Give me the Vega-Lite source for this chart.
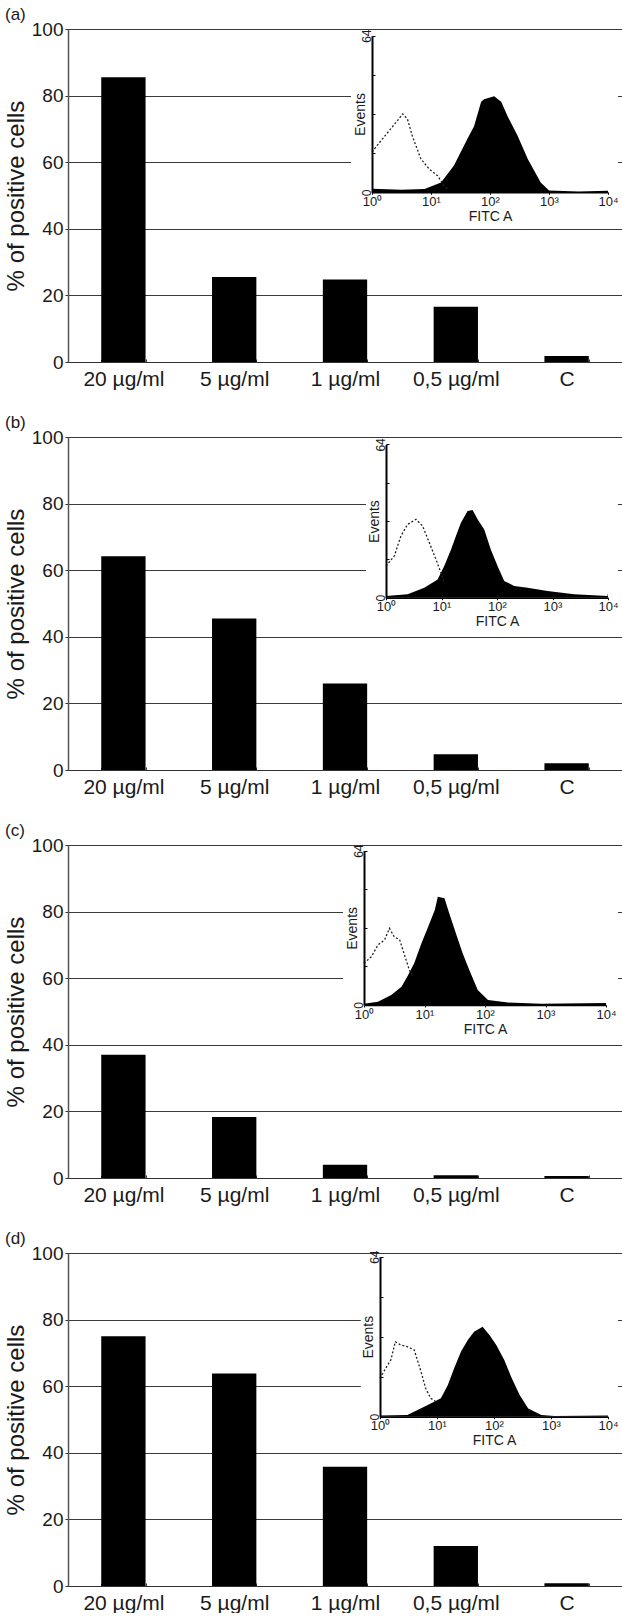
{
  "$schema": "https://vega.github.io/schema/vega-lite/v6.json",
  "padding": {"left": 4, "top": 6, "right": 0, "bottom": 0},
  "bounds": "flush",
  "spacing": 75,
  "config": {
    "font": "Liberation Sans",
    "view": {"stroke": null},
    "axis": {"labelColor": "#1a1a1a", "titleColor": "#1a1a1a", "titleFontWeight": "normal"},
    "title": {"color": "#1a1a1a", "fontWeight": "normal", "fontSize": 17}
  },
  "datasets": {
    "bars": [
      {"panel": "a", "conc": "20 µg/ml", "pct": 85.5},
      {"panel": "a", "conc": "5 µg/ml", "pct": 25.5},
      {"panel": "a", "conc": "1 µg/ml", "pct": 24.8},
      {"panel": "a", "conc": "0,5 µg/ml", "pct": 16.6},
      {"panel": "a", "conc": "C", "pct": 1.8},
      {"panel": "b", "conc": "20 µg/ml", "pct": 64.2},
      {"panel": "b", "conc": "5 µg/ml", "pct": 45.5},
      {"panel": "b", "conc": "1 µg/ml", "pct": 26},
      {"panel": "b", "conc": "0,5 µg/ml", "pct": 4.7},
      {"panel": "b", "conc": "C", "pct": 2},
      {"panel": "c", "conc": "20 µg/ml", "pct": 37},
      {"panel": "c", "conc": "5 µg/ml", "pct": 18.3},
      {"panel": "c", "conc": "1 µg/ml", "pct": 4},
      {"panel": "c", "conc": "0,5 µg/ml", "pct": 0.8},
      {"panel": "c", "conc": "C", "pct": 0.6},
      {"panel": "d", "conc": "20 µg/ml", "pct": 75},
      {"panel": "d", "conc": "5 µg/ml", "pct": 63.8},
      {"panel": "d", "conc": "1 µg/ml", "pct": 35.8},
      {"panel": "d", "conc": "0,5 µg/ml", "pct": 12},
      {"panel": "d", "conc": "C", "pct": 0.8}
    ],
    "hist": [
      {"panel": "a", "series": "control", "fitc": 1, "events": 16.5},
      {"panel": "a", "series": "control", "fitc": 1.41, "events": 21},
      {"panel": "a", "series": "control", "fitc": 2.09, "events": 26},
      {"panel": "a", "series": "control", "fitc": 3.31, "events": 32},
      {"panel": "a", "series": "control", "fitc": 3.98, "events": 30},
      {"panel": "a", "series": "control", "fitc": 4.9, "events": 22.5},
      {"panel": "a", "series": "control", "fitc": 6.76, "events": 13.6},
      {"panel": "a", "series": "control", "fitc": 9.33, "events": 9.5},
      {"panel": "a", "series": "control", "fitc": 12.9, "events": 6.8},
      {"panel": "a", "series": "control", "fitc": 16.6, "events": 2.7},
      {"panel": "a", "series": "control", "fitc": 20, "events": 1},
      {"panel": "a", "series": "stained", "fitc": 1, "events": 1.5},
      {"panel": "a", "series": "stained", "fitc": 3.16, "events": 1},
      {"panel": "a", "series": "stained", "fitc": 7.76, "events": 1.3},
      {"panel": "a", "series": "stained", "fitc": 14.8, "events": 4},
      {"panel": "a", "series": "stained", "fitc": 24.5, "events": 11},
      {"panel": "a", "series": "stained", "fitc": 41.7, "events": 22},
      {"panel": "a", "series": "stained", "fitc": 53.7, "events": 27},
      {"panel": "a", "series": "stained", "fitc": 70.8, "events": 37},
      {"panel": "a", "series": "stained", "fitc": 79.4, "events": 38},
      {"panel": "a", "series": "stained", "fitc": 117.5, "events": 39.3},
      {"panel": "a", "series": "stained", "fitc": 154.9, "events": 37},
      {"panel": "a", "series": "stained", "fitc": 199.5, "events": 31},
      {"panel": "a", "series": "stained", "fitc": 295, "events": 23},
      {"panel": "a", "series": "stained", "fitc": 436.5, "events": 13.6},
      {"panel": "a", "series": "stained", "fitc": 724, "events": 4},
      {"panel": "a", "series": "stained", "fitc": 1000, "events": 0.7},
      {"panel": "a", "series": "stained", "fitc": 3162, "events": 0.3},
      {"panel": "a", "series": "stained", "fitc": 10000, "events": 0.6},
      {"panel": "b", "series": "control", "fitc": 1, "events": 13.2},
      {"panel": "b", "series": "control", "fitc": 1.41, "events": 17.4},
      {"panel": "b", "series": "control", "fitc": 1.86, "events": 25.8},
      {"panel": "b", "series": "control", "fitc": 2.45, "events": 30.6},
      {"panel": "b", "series": "control", "fitc": 3.47, "events": 32.7},
      {"panel": "b", "series": "control", "fitc": 4.57, "events": 29.9},
      {"panel": "b", "series": "control", "fitc": 6.03, "events": 23},
      {"panel": "b", "series": "control", "fitc": 7.94, "events": 16},
      {"panel": "b", "series": "control", "fitc": 9.77, "events": 10.4},
      {"panel": "b", "series": "control", "fitc": 11.2, "events": 6},
      {"panel": "b", "series": "stained", "fitc": 1, "events": 0.7},
      {"panel": "b", "series": "stained", "fitc": 2.45, "events": 1.4},
      {"panel": "b", "series": "stained", "fitc": 4.9, "events": 4.2},
      {"panel": "b", "series": "stained", "fitc": 8.51, "events": 7.6},
      {"panel": "b", "series": "stained", "fitc": 11.2, "events": 13.2},
      {"panel": "b", "series": "stained", "fitc": 14.8, "events": 20},
      {"panel": "b", "series": "stained", "fitc": 18.2, "events": 25.8},
      {"panel": "b", "series": "stained", "fitc": 22.4, "events": 31.3},
      {"panel": "b", "series": "stained", "fitc": 29.5, "events": 36.2},
      {"panel": "b", "series": "stained", "fitc": 36.3, "events": 36.6},
      {"panel": "b", "series": "stained", "fitc": 44.7, "events": 32.7},
      {"panel": "b", "series": "stained", "fitc": 58.9, "events": 28.5},
      {"panel": "b", "series": "stained", "fitc": 77.6, "events": 20},
      {"panel": "b", "series": "stained", "fitc": 102.3, "events": 13.2},
      {"panel": "b", "series": "stained", "fitc": 134.9, "events": 7},
      {"panel": "b", "series": "stained", "fitc": 204.2, "events": 4.9},
      {"panel": "b", "series": "stained", "fitc": 354.8, "events": 4.2},
      {"panel": "b", "series": "stained", "fitc": 812.8, "events": 2.8},
      {"panel": "b", "series": "stained", "fitc": 2455, "events": 1.4},
      {"panel": "b", "series": "stained", "fitc": 9772, "events": 0.7},
      {"panel": "b", "series": "stained", "fitc": 10000, "events": 2},
      {"panel": "c", "series": "control", "fitc": 1, "events": 17.3},
      {"panel": "c", "series": "control", "fitc": 1.32, "events": 20},
      {"panel": "c", "series": "control", "fitc": 1.7, "events": 24.9},
      {"panel": "c", "series": "control", "fitc": 2.19, "events": 27},
      {"panel": "c", "series": "control", "fitc": 2.63, "events": 31.8},
      {"panel": "c", "series": "control", "fitc": 3.16, "events": 28.3},
      {"panel": "c", "series": "control", "fitc": 3.89, "events": 27},
      {"panel": "c", "series": "control", "fitc": 4.68, "events": 20.7},
      {"panel": "c", "series": "control", "fitc": 5.62, "events": 14.5},
      {"panel": "c", "series": "control", "fitc": 6.46, "events": 11.7},
      {"panel": "c", "series": "stained", "fitc": 1, "events": 0.5},
      {"panel": "c", "series": "stained", "fitc": 1.7, "events": 1.4},
      {"panel": "c", "series": "stained", "fitc": 2.82, "events": 4.1},
      {"panel": "c", "series": "stained", "fitc": 4.17, "events": 7.6},
      {"panel": "c", "series": "stained", "fitc": 5.37, "events": 12.4},
      {"panel": "c", "series": "stained", "fitc": 6.76, "events": 17.3},
      {"panel": "c", "series": "stained", "fitc": 8.91, "events": 25.6},
      {"panel": "c", "series": "stained", "fitc": 11.5, "events": 32.5},
      {"panel": "c", "series": "stained", "fitc": 14.8, "events": 39.4},
      {"panel": "c", "series": "stained", "fitc": 16.6, "events": 44.9},
      {"panel": "c", "series": "stained", "fitc": 21.4, "events": 44.3},
      {"panel": "c", "series": "stained", "fitc": 25.7, "events": 38},
      {"panel": "c", "series": "stained", "fitc": 33.1, "events": 29.7},
      {"panel": "c", "series": "stained", "fitc": 42.7, "events": 21.5},
      {"panel": "c", "series": "stained", "fitc": 55, "events": 14.5},
      {"panel": "c", "series": "stained", "fitc": 75.9, "events": 6.2},
      {"panel": "c", "series": "stained", "fitc": 112.2, "events": 2.1},
      {"panel": "c", "series": "stained", "fitc": 239.9, "events": 1},
      {"panel": "c", "series": "stained", "fitc": 851, "events": 0.5},
      {"panel": "c", "series": "stained", "fitc": 10000, "events": 0.8},
      {"panel": "d", "series": "control", "fitc": 1, "events": 15.4},
      {"panel": "d", "series": "control", "fitc": 1.26, "events": 19.4},
      {"panel": "d", "series": "control", "fitc": 1.55, "events": 22.7},
      {"panel": "d", "series": "control", "fitc": 1.86, "events": 30},
      {"panel": "d", "series": "control", "fitc": 2.29, "events": 28.7},
      {"panel": "d", "series": "control", "fitc": 3.02, "events": 28},
      {"panel": "d", "series": "control", "fitc": 3.98, "events": 26.7},
      {"panel": "d", "series": "control", "fitc": 5.25, "events": 18},
      {"panel": "d", "series": "control", "fitc": 6.31, "events": 11.4},
      {"panel": "d", "series": "control", "fitc": 7.76, "events": 7.4},
      {"panel": "d", "series": "control", "fitc": 9.55, "events": 6},
      {"panel": "d", "series": "stained", "fitc": 1, "events": 0.5},
      {"panel": "d", "series": "stained", "fitc": 3.02, "events": 0.7},
      {"panel": "d", "series": "stained", "fitc": 4.57, "events": 2.7},
      {"panel": "d", "series": "stained", "fitc": 7.76, "events": 5.3},
      {"panel": "d", "series": "stained", "fitc": 11.7, "events": 7.4},
      {"panel": "d", "series": "stained", "fitc": 15.5, "events": 12.7},
      {"panel": "d", "series": "stained", "fitc": 20, "events": 19.4},
      {"panel": "d", "series": "stained", "fitc": 26.3, "events": 26},
      {"panel": "d", "series": "stained", "fitc": 34.7, "events": 30.7},
      {"panel": "d", "series": "stained", "fitc": 44.7, "events": 34},
      {"panel": "d", "series": "stained", "fitc": 63.1, "events": 36},
      {"panel": "d", "series": "stained", "fitc": 83.2, "events": 32.7},
      {"panel": "d", "series": "stained", "fitc": 109.6, "events": 28.7},
      {"panel": "d", "series": "stained", "fitc": 151.4, "events": 22.7},
      {"panel": "d", "series": "stained", "fitc": 199.5, "events": 16},
      {"panel": "d", "series": "stained", "fitc": 281.8, "events": 8.7},
      {"panel": "d", "series": "stained", "fitc": 398.1, "events": 3.3},
      {"panel": "d", "series": "stained", "fitc": 676.1, "events": 0.7},
      {"panel": "d", "series": "stained", "fitc": 1148, "events": 0.3},
      {"panel": "d", "series": "stained", "fitc": 10000, "events": 0.5}
    ]
  },
  "vconcat": [
    {
      "width": 554, "height": 333,
      "title": {"text": "(a)", "anchor": "start", "frame": "group", "dx": -63, "offset": -21, "baseline": "bottom"},
      "resolve": {"scale": {"x": "independent", "y": "independent"}, "axis": {"x": "independent", "y": "independent"}},
      "layer": [
        {
          "data": {"name": "bars"},
          "transform": [{"filter": "datum.panel == 'a'"}],
          "mark": {"type": "bar", "color": "#000"},
          "encoding": {
            "x": {"field": "conc", "type": "nominal", "sort": ["20 µg/ml", "5 µg/ml", "1 µg/ml", "0,5 µg/ml", "C"], "scale": {"paddingInner": 0.6, "paddingOuter": 0.3},
              "axis": {"title": null, "orient": "bottom", "labelAngle": 0, "labelFontSize": 21, "labelPadding": 9, "tickBand": "extent", "tickSize": -3, "tickColor": "#333", "domainColor": "#333", "domainWidth": 1.2}},
            "y": {"field": "pct", "type": "quantitative", "scale": {"domain": [0, 100]},
              "axis": {"title": "% of positive cells", "orient": "left", "titleFontSize": 24, "titlePadding": 3, "values": [0, 20, 40, 60, 80, 100], "labelFontSize": 19, "labelPadding": 2, "tickSize": 3, "tickColor": "#333", "grid": true, "gridColor": "#3a3a3a", "gridWidth": 1.2, "domainColor": "#555", "domainWidth": 1.5}}
          }
        },
        {
          "data": {"values": [{}]},
          "mark": {"type": "rect", "color": "#fff"},
          "encoding": {
            "x": {"datum": 0.44, "type": "quantitative", "scale": {"type": "log", "domain": [1, 10000], "range": [304, 540]}, "axis": null},
            "x2": {"datum": 14790},
            "y": {"datum": 65.5, "type": "quantitative", "scale": {"domain": [0, 64], "range": [163.3, 6.7]}, "axis": null},
            "y2": {"datum": -11.7}
          }
        },
        {
          "data": {"name": "hist"},
          "transform": [{"filter": "datum.panel == 'a' && datum.series == 'stained'"}],
          "mark": {"type": "area", "color": "#000"},
          "encoding": {
            "x": {"field": "fitc", "type": "quantitative", "scale": {"type": "log", "domain": [1, 10000], "range": [304, 540]},
              "axis": {"orient": "bottom", "offset": -169.7, "zindex": 1, "values": [1, 10, 100, 1000, 10000], "labelExpr": "'10' + ['⁰','¹','²','³','⁴'][round(log(datum.value)/LN10)]", "labelFlush": false, "labelOverlap": false, "labelFontSize": 13, "labelPadding": 1, "tickSize": 2, "tickColor": "#000", "domainColor": "#000", "domainWidth": 1.5, "title": "FITC A", "titleFontSize": 14, "titlePadding": 1, "grid": false}},
            "y": {"field": "events", "type": "quantitative", "scale": {"domain": [0, 64], "range": [163.3, 6.7]},
              "axis": {"orient": "left", "offset": -304, "zindex": 1, "values": [0, 16, 32, 48, 64], "labelExpr": "datum.value == 0 || datum.value == 64 ? datum.label : ''", "labelAngle": -90, "labelAlign": "center", "labelBaseline": "bottom", "labelFlush": false, "labelOverlap": false, "labelFontSize": 12, "labelPadding": 2, "tickSize": -3, "tickColor": "#000", "domainColor": "#000", "domainWidth": 2, "title": "Events", "titleFontSize": 14, "titlePadding": -7, "grid": false}}
          }
        },
        {
          "data": {"name": "hist"},
          "transform": [{"filter": "datum.panel == 'a' && datum.series == 'control'"}],
          "mark": {"type": "line", "color": "#222", "strokeDash": [2, 2], "strokeWidth": 1.3},
          "encoding": {
            "x": {"field": "fitc", "type": "quantitative", "scale": {"type": "log", "domain": [1, 10000], "range": [304, 540]}, "axis": null},
            "y": {"field": "events", "type": "quantitative", "scale": {"domain": [0, 64], "range": [163.3, 6.7]}, "axis": null}
          }
        }
      ]
    },
    {
      "width": 554, "height": 333,
      "title": {"text": "(b)", "anchor": "start", "frame": "group", "dx": -63, "offset": -21, "baseline": "bottom"},
      "resolve": {"scale": {"x": "independent", "y": "independent"}, "axis": {"x": "independent", "y": "independent"}},
      "layer": [
        {
          "data": {"name": "bars"},
          "transform": [{"filter": "datum.panel == 'b'"}],
          "mark": {"type": "bar", "color": "#000"},
          "encoding": {
            "x": {"field": "conc", "type": "nominal", "sort": ["20 µg/ml", "5 µg/ml", "1 µg/ml", "0,5 µg/ml", "C"], "scale": {"paddingInner": 0.6, "paddingOuter": 0.3},
              "axis": {"title": null, "orient": "bottom", "labelAngle": 0, "labelFontSize": 21, "labelPadding": 9, "tickBand": "extent", "tickSize": -3, "tickColor": "#333", "domainColor": "#333", "domainWidth": 1.2}},
            "y": {"field": "pct", "type": "quantitative", "scale": {"domain": [0, 100]},
              "axis": {"title": "% of positive cells", "orient": "left", "titleFontSize": 24, "titlePadding": 3, "values": [0, 20, 40, 60, 80, 100], "labelFontSize": 19, "labelPadding": 2, "tickSize": 3, "tickColor": "#333", "grid": true, "gridColor": "#3a3a3a", "gridWidth": 1.2, "domainColor": "#555", "domainWidth": 1.5}}
          }
        },
        {
          "data": {"values": [{}]},
          "mark": {"type": "rect", "color": "#fff"},
          "encoding": {
            "x": {"datum": 0.436, "type": "quantitative", "scale": {"type": "log", "domain": [1, 10000], "range": [318, 540]}, "axis": null},
            "x2": {"datum": 15100},
            "y": {"datum": 65.8, "type": "quantitative", "scale": {"domain": [0, 64], "range": [160.7, 7.4]}, "axis": null},
            "y2": {"datum": -13}
          }
        },
        {
          "data": {"name": "hist"},
          "transform": [{"filter": "datum.panel == 'b' && datum.series == 'stained'"}],
          "mark": {"type": "area", "color": "#000"},
          "encoding": {
            "x": {"field": "fitc", "type": "quantitative", "scale": {"type": "log", "domain": [1, 10000], "range": [318, 540]},
              "axis": {"orient": "bottom", "offset": -172.3, "zindex": 1, "values": [1, 10, 100, 1000, 10000], "labelExpr": "'10' + ['⁰','¹','²','³','⁴'][round(log(datum.value)/LN10)]", "labelFlush": false, "labelOverlap": false, "labelFontSize": 13, "labelPadding": 1, "tickSize": 2, "tickColor": "#000", "domainColor": "#000", "domainWidth": 1.5, "title": "FITC A", "titleFontSize": 14, "titlePadding": 1, "grid": false}},
            "y": {"field": "events", "type": "quantitative", "scale": {"domain": [0, 64], "range": [160.7, 7.4]},
              "axis": {"orient": "left", "offset": -318, "zindex": 1, "values": [0, 16, 32, 48, 64], "labelExpr": "datum.value == 0 || datum.value == 64 ? datum.label : ''", "labelAngle": -90, "labelAlign": "center", "labelBaseline": "bottom", "labelFlush": false, "labelOverlap": false, "labelFontSize": 12, "labelPadding": 2, "tickSize": -3, "tickColor": "#000", "domainColor": "#000", "domainWidth": 2, "title": "Events", "titleFontSize": 14, "titlePadding": -7, "grid": false}}
          }
        },
        {
          "data": {"name": "hist"},
          "transform": [{"filter": "datum.panel == 'b' && datum.series == 'control'"}],
          "mark": {"type": "line", "color": "#222", "strokeDash": [2, 2], "strokeWidth": 1.3},
          "encoding": {
            "x": {"field": "fitc", "type": "quantitative", "scale": {"type": "log", "domain": [1, 10000], "range": [318, 540]}, "axis": null},
            "y": {"field": "events", "type": "quantitative", "scale": {"domain": [0, 64], "range": [160.7, 7.4]}, "axis": null}
          }
        }
      ]
    },
    {
      "width": 554, "height": 333,
      "title": {"text": "(c)", "anchor": "start", "frame": "group", "dx": -63, "offset": -21, "baseline": "bottom"},
      "resolve": {"scale": {"x": "independent", "y": "independent"}, "axis": {"x": "independent", "y": "independent"}},
      "layer": [
        {
          "data": {"name": "bars"},
          "transform": [{"filter": "datum.panel == 'c'"}],
          "mark": {"type": "bar", "color": "#000"},
          "encoding": {
            "x": {"field": "conc", "type": "nominal", "sort": ["20 µg/ml", "5 µg/ml", "1 µg/ml", "0,5 µg/ml", "C"], "scale": {"paddingInner": 0.6, "paddingOuter": 0.3},
              "axis": {"title": null, "orient": "bottom", "labelAngle": 0, "labelFontSize": 21, "labelPadding": 9, "tickBand": "extent", "tickSize": -3, "tickColor": "#333", "domainColor": "#333", "domainWidth": 1.2}},
            "y": {"field": "pct", "type": "quantitative", "scale": {"domain": [0, 100]},
              "axis": {"title": "% of positive cells", "orient": "left", "titleFontSize": 24, "titlePadding": 3, "values": [0, 20, 40, 60, 80, 100], "labelFontSize": 19, "labelPadding": 2, "tickSize": 3, "tickColor": "#333", "grid": true, "gridColor": "#3a3a3a", "gridWidth": 1.2, "domainColor": "#555", "domainWidth": 1.5}}
          }
        },
        {
          "data": {"values": [{}]},
          "mark": {"type": "rect", "color": "#fff"},
          "encoding": {
            "x": {"datum": 0.45, "type": "quantitative", "scale": {"type": "log", "domain": [1, 10000], "range": [296, 538]}, "axis": null},
            "x2": {"datum": 15800},
            "y": {"datum": 65.1, "type": "quantitative", "scale": {"domain": [0, 64], "range": [160, 5.7]}, "axis": null},
            "y2": {"datum": -13.3}
          }
        },
        {
          "data": {"name": "hist"},
          "transform": [{"filter": "datum.panel == 'c' && datum.series == 'stained'"}],
          "mark": {"type": "area", "color": "#000"},
          "encoding": {
            "x": {"field": "fitc", "type": "quantitative", "scale": {"type": "log", "domain": [1, 10000], "range": [296, 538]},
              "axis": {"orient": "bottom", "offset": -173, "zindex": 1, "values": [1, 10, 100, 1000, 10000], "labelExpr": "'10' + ['⁰','¹','²','³','⁴'][round(log(datum.value)/LN10)]", "labelFlush": false, "labelOverlap": false, "labelFontSize": 13, "labelPadding": 1, "tickSize": 2, "tickColor": "#000", "domainColor": "#000", "domainWidth": 1.5, "title": "FITC A", "titleFontSize": 14, "titlePadding": 1, "grid": false}},
            "y": {"field": "events", "type": "quantitative", "scale": {"domain": [0, 64], "range": [160, 5.7]},
              "axis": {"orient": "left", "offset": -296, "zindex": 1, "values": [0, 16, 32, 48, 64], "labelExpr": "datum.value == 0 || datum.value == 64 ? datum.label : ''", "labelAngle": -90, "labelAlign": "center", "labelBaseline": "bottom", "labelFlush": false, "labelOverlap": false, "labelFontSize": 12, "labelPadding": 2, "tickSize": -3, "tickColor": "#000", "domainColor": "#000", "domainWidth": 2, "title": "Events", "titleFontSize": 14, "titlePadding": -7, "grid": false}}
          }
        },
        {
          "data": {"name": "hist"},
          "transform": [{"filter": "datum.panel == 'c' && datum.series == 'control'"}],
          "mark": {"type": "line", "color": "#222", "strokeDash": [2, 2], "strokeWidth": 1.3},
          "encoding": {
            "x": {"field": "fitc", "type": "quantitative", "scale": {"type": "log", "domain": [1, 10000], "range": [296, 538]}, "axis": null},
            "y": {"field": "events", "type": "quantitative", "scale": {"domain": [0, 64], "range": [160, 5.7]}, "axis": null}
          }
        }
      ]
    },
    {
      "width": 554, "height": 333,
      "title": {"text": "(d)", "anchor": "start", "frame": "group", "dx": -63, "offset": -21, "baseline": "bottom"},
      "resolve": {"scale": {"x": "independent", "y": "independent"}, "axis": {"x": "independent", "y": "independent"}},
      "layer": [
        {
          "data": {"name": "bars"},
          "transform": [{"filter": "datum.panel == 'd'"}],
          "mark": {"type": "bar", "color": "#000"},
          "encoding": {
            "x": {"field": "conc", "type": "nominal", "sort": ["20 µg/ml", "5 µg/ml", "1 µg/ml", "0,5 µg/ml", "C"], "scale": {"paddingInner": 0.6, "paddingOuter": 0.3},
              "axis": {"title": null, "orient": "bottom", "labelAngle": 0, "labelFontSize": 21, "labelPadding": 9, "tickBand": "extent", "tickSize": -3, "tickColor": "#333", "domainColor": "#333", "domainWidth": 1.2}},
            "y": {"field": "pct", "type": "quantitative", "scale": {"domain": [0, 100]},
              "axis": {"title": "% of positive cells", "orient": "left", "titleFontSize": 24, "titlePadding": 3, "values": [0, 20, 40, 60, 80, 100], "labelFontSize": 19, "labelPadding": 2, "tickSize": 3, "tickColor": "#333", "grid": true, "gridColor": "#3a3a3a", "gridWidth": 1.2, "domainColor": "#555", "domainWidth": 1.5}}
          }
        },
        {
          "data": {"values": [{}]},
          "mark": {"type": "rect", "color": "#fff"},
          "encoding": {
            "x": {"datum": 0.46, "type": "quantitative", "scale": {"type": "log", "domain": [1, 10000], "range": [312, 540]}, "axis": null},
            "x2": {"datum": 15000},
            "y": {"datum": 64.3, "type": "quantitative", "scale": {"domain": [0, 64], "range": [163.7, 3.7]}, "axis": null},
            "y2": {"datum": -11.3}
          }
        },
        {
          "data": {"name": "hist"},
          "transform": [{"filter": "datum.panel == 'd' && datum.series == 'stained'"}],
          "mark": {"type": "area", "color": "#000"},
          "encoding": {
            "x": {"field": "fitc", "type": "quantitative", "scale": {"type": "log", "domain": [1, 10000], "range": [312, 540]},
              "axis": {"orient": "bottom", "offset": -169.3, "zindex": 1, "values": [1, 10, 100, 1000, 10000], "labelExpr": "'10' + ['⁰','¹','²','³','⁴'][round(log(datum.value)/LN10)]", "labelFlush": false, "labelOverlap": false, "labelFontSize": 13, "labelPadding": 1, "tickSize": 2, "tickColor": "#000", "domainColor": "#000", "domainWidth": 1.5, "title": "FITC A", "titleFontSize": 14, "titlePadding": 1, "grid": false}},
            "y": {"field": "events", "type": "quantitative", "scale": {"domain": [0, 64], "range": [163.7, 3.7]},
              "axis": {"orient": "left", "offset": -312, "zindex": 1, "values": [0, 16, 32, 48, 64], "labelExpr": "datum.value == 0 || datum.value == 64 ? datum.label : ''", "labelAngle": -90, "labelAlign": "center", "labelBaseline": "bottom", "labelFlush": false, "labelOverlap": false, "labelFontSize": 12, "labelPadding": 2, "tickSize": -3, "tickColor": "#000", "domainColor": "#000", "domainWidth": 2, "title": "Events", "titleFontSize": 14, "titlePadding": -7, "grid": false}}
          }
        },
        {
          "data": {"name": "hist"},
          "transform": [{"filter": "datum.panel == 'd' && datum.series == 'control'"}],
          "mark": {"type": "line", "color": "#222", "strokeDash": [2, 2], "strokeWidth": 1.3},
          "encoding": {
            "x": {"field": "fitc", "type": "quantitative", "scale": {"type": "log", "domain": [1, 10000], "range": [312, 540]}, "axis": null},
            "y": {"field": "events", "type": "quantitative", "scale": {"domain": [0, 64], "range": [163.7, 3.7]}, "axis": null}
          }
        }
      ]
    }
  ]
}
